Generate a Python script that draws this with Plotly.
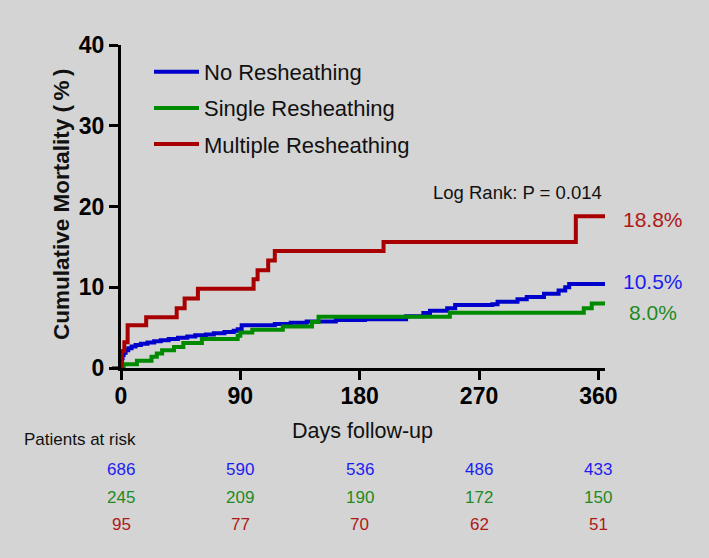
import plotly.graph_objects as go

# ---- data ----
no_days = [0, 0.3, 0.7, 1.2, 2, 3.5, 5.5, 8, 11, 15, 20, 25, 30, 36, 43, 50, 56, 64, 70, 78,
           85, 88, 91, 116, 128, 140, 162, 184, 215, 228, 233, 246, 252, 280, 284, 299, 306,
           319, 330, 335, 338, 365]
no_pct = [0, 0.6, 1.2, 1.6, 1.9, 2.2, 2.45, 2.65, 2.85, 3.0, 3.15, 3.3, 3.45, 3.6, 3.75, 3.9,
          4.05, 4.15, 4.3, 4.45, 4.6, 4.8, 5.3, 5.45, 5.6, 5.75, 5.95, 6.05, 6.4, 6.8, 7.1, 7.4,
          7.8, 7.9, 8.2, 8.5, 8.8, 9.2, 9.6, 10.0, 10.4, 10.4]

single_days = [0, 2, 12, 23, 27, 31, 40, 47, 61, 88, 90, 99, 122, 144, 149, 248, 349, 355, 365]
single_pct = [0, 0.45, 0.9, 1.4, 1.8, 2.2, 2.6, 3.1, 3.6, 4.0, 4.4, 4.75, 5.15, 5.7, 6.35,
              6.85, 7.4, 8.0, 8.0]

multi_days = [0, 0.5, 2.5, 5, 19, 42, 48, 58, 100, 103, 111, 116, 198, 343, 365]
multi_pct = [0, 2.1, 3.2, 5.3, 6.3, 7.4, 8.6, 9.8, 11.0, 12.1, 13.3, 14.5, 15.6, 18.8, 18.8]

series_names = ["No Resheathing", "Single Resheathing", "Multiple Resheathing"]
end_labels = ["10.5%", "8.0%", "18.8%"]

risk_days = [0, 90, 180, 270, 360]
risk_no = [686, 590, 536, 486, 433]
risk_single = [245, 209, 190, 172, 150]
risk_multi = [95, 77, 70, 62, 51]

x_ticks = [0, 90, 180, 270, 360]
y_ticks = [0, 10, 20, 30, 40]
p_text = "Log Rank: P = 0.014"

# ---- styling ----
W, H = 709, 558
ML, MR, MT, MB = 121, 104, 45, 190
PW, PH = W - ML - MR, H - MT - MB
BG = "#d4d4d4"
FONT = "Liberation Sans, Arial, sans-serif"
line_cols = ["#0000cc", "#008a00", "#a80000"]
text_cols = ["#1c1cf0", "#1f8a1f", "#b01818"]


def px_x(px):
    return (px - ML) / PW


def px_y(py):
    return (MT + PH - py) / PH


fig = go.Figure()
for i, (xd, yd) in enumerate([(no_days, no_pct), (single_days, single_pct),
                              (multi_days, multi_pct)]):
    fig.add_trace(go.Scatter(
        x=xd, y=yd, mode="lines", line=dict(color=line_cols[i], width=4, shape="hv"),
        name=series_names[i], legendgroup=f"g{i}", hoverinfo="skip"))

ann = []
# end labels
end_y = [281, 312, 219]
for i in range(3):
    ann.append(dict(text=end_labels[i], xref="paper", yref="paper", x=px_x(653), y=px_y(end_y[i]),
                    xanchor="center", yanchor="middle", showarrow=False,
                    font=dict(family=FONT, size=21, color=text_cols[i])))
# log rank
ann.append(dict(text=p_text, xref="paper", yref="paper", x=px_x(604), y=px_y(192),
                xanchor="right", yanchor="middle", showarrow=False,
                font=dict(family=FONT, size=18.5, color="#111111")))
# axis titles
ann.append(dict(text="<b>Cumulative Mortality (\u2009%\u2009)</b>", xref="paper", yref="paper",
                x=px_x(61), y=px_y(204), textangle=-90, xanchor="center", yanchor="middle",
                showarrow=False, font=dict(family=FONT, size=22.5, color="#111111")))
ann.append(dict(text="Days follow-up", xref="paper", yref="paper", x=px_x(362), y=px_y(431),
                xanchor="center", yanchor="middle", showarrow=False,
                font=dict(family=FONT, size=21.5, color="#111111")))
ann.append(dict(text="Patients at risk", xref="paper", yref="paper", x=px_x(22), y=px_y(439),
                xanchor="left", yanchor="middle", showarrow=False,
                font=dict(family=FONT, size=17, color="#111111")))
# risk table
for row, (vals, py) in enumerate([(risk_no, 469), (risk_single, 497), (risk_multi, 524)]):
    for d, v in zip(risk_days, vals):
        ann.append(dict(text=str(v), xref="x", yref="paper", x=d, y=px_y(py),
                        xanchor="center", yanchor="middle", showarrow=False,
                        font=dict(family=FONT, size=17, color=text_cols[row])))

fig.update_layout(
    width=W, height=H, autosize=False,
    margin=dict(l=ML, r=MR, t=MT, b=MB, pad=0),
    paper_bgcolor=BG, plot_bgcolor=BG,
    font=dict(family=FONT, color="#111111"),
    showlegend=True,
    legend=dict(x=px_x(149), y=px_y(51), xanchor="left", yanchor="top",
                bgcolor="rgba(0,0,0,0)", borderwidth=0, tracegroupgap=4.5,
                font=dict(family=FONT, size=22, color="#111111"), itemwidth=45),
    annotations=ann,
    shapes=[dict(type="line", xref="paper", yref="paper", x0=px_x(112), x1=0, y0=0, y1=0,
                 line=dict(color="black", width=3))],
    xaxis=dict(range=[0, 365], tickvals=x_ticks, ticks="outside", ticklen=9, tickwidth=3,
               tickcolor="black", showline=True, linewidth=3, linecolor="black",
               showgrid=False, zeroline=False, ticklabelstandoff=-4,
               tickfont=dict(family=FONT, size=23, color="black", weight="bold")),
    yaxis=dict(range=[0, 40], tickvals=y_ticks, ticks="outside", ticklen=9, tickwidth=3,
               tickcolor="black", showline=True, linewidth=3, linecolor="black",
               showgrid=False, zeroline=False,
               tickfont=dict(family=FONT, size=23, color="black", weight="bold")),
)

fig.write_html("out.html", config={"displayModeBar": False},
               post_script="document.body.style.margin='0';document.body.style.background='#d4d4d4';")
